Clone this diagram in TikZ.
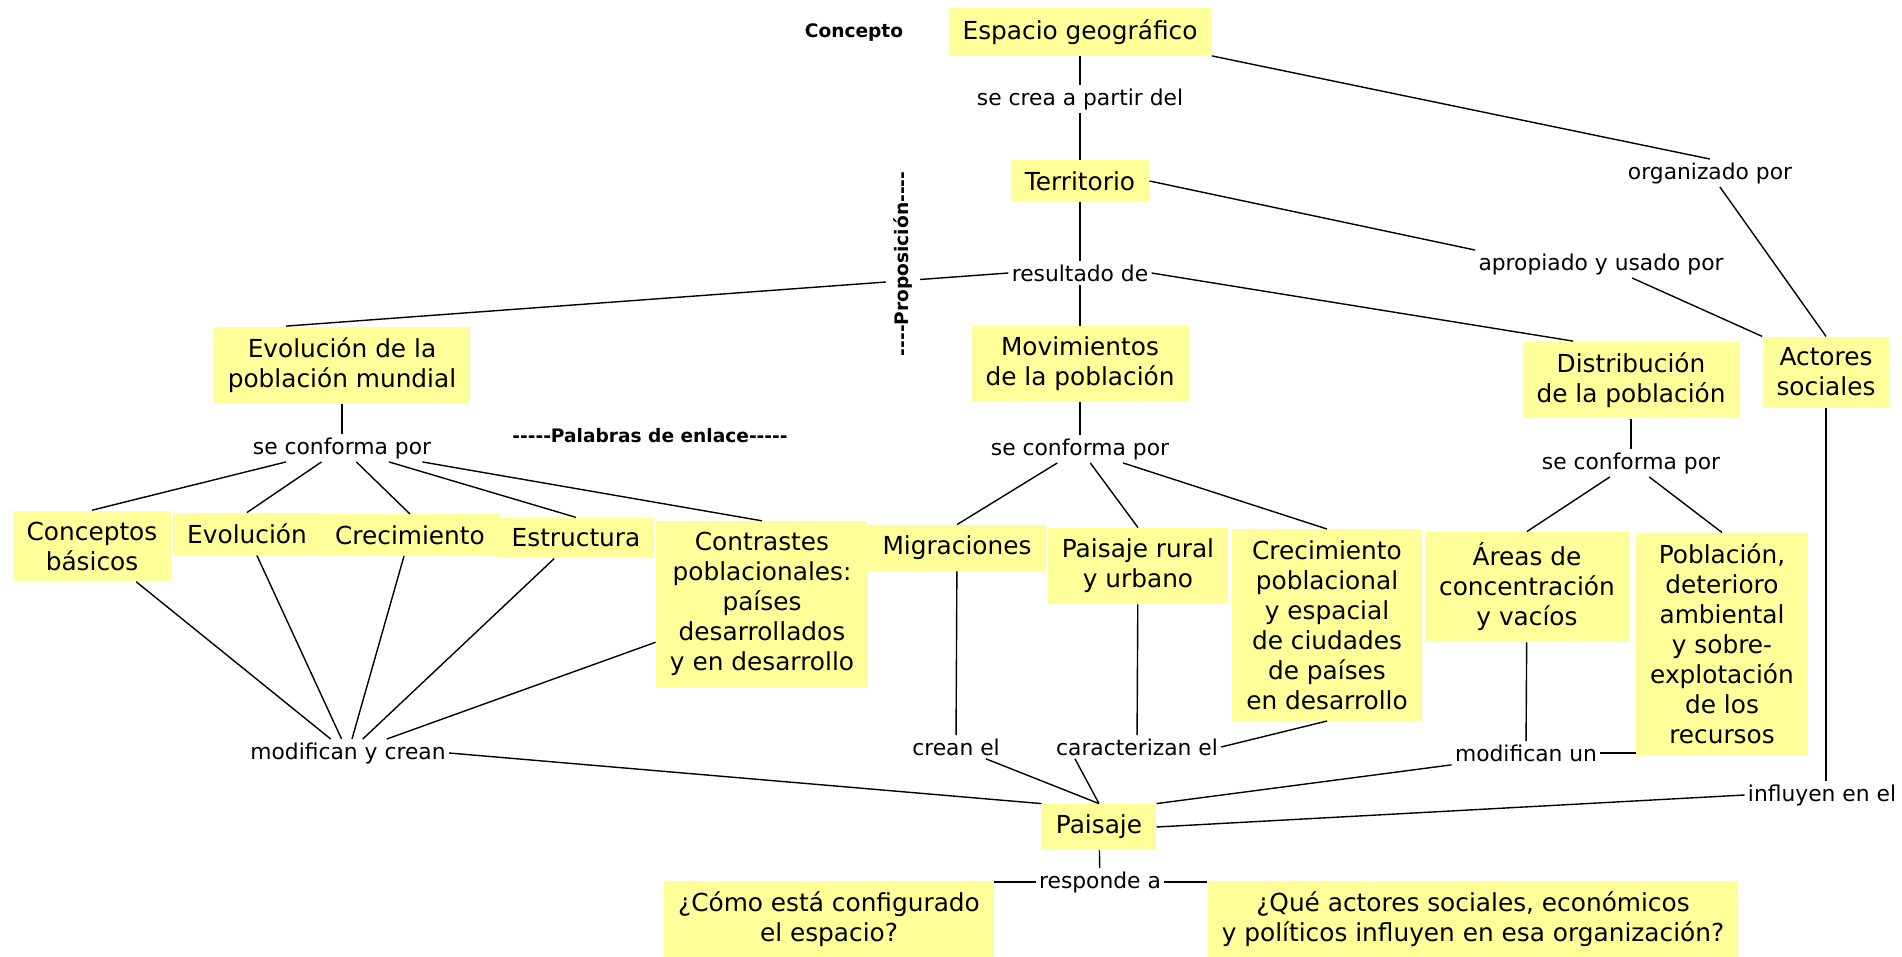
\documentclass[tikz,border=0pt]{standalone}
\usepackage{fontspec}
\setmainfont{DejaVu Sans}
\usetikzlibrary{calc}
\definecolor{cmapyellow}{RGB}{255,255,153}

\begin{document}
\begin{tikzpicture}[x=0.5pt,y=0.5pt,yscale=-1,
    concepto/.style={fill=cmapyellow, inner xsep=7pt, inner ysep=5.5pt, align=center, font=\fontsize{12.4}{15}\selectfont},
    enlace/.style={inner sep=1.5pt, align=center, font=\fontsize{10.9}{13}\selectfont},
    leyenda/.style={inner sep=2pt, font=\fontsize{9.3}{11}\selectfont\bfseries},
    linea/.style={line width=0.7pt}]
    \useasboundingbox (0,0) rectangle (1902,957);

    % Concepts
    \node[concepto] (espacio) at (1080,32) {Espacio geográfico};
    \node[concepto] (territorio) at (1080,181) {Territorio};
    \node[concepto] (evolpob) at (342,365) {Evolución de la\\población mundial};
    \node[concepto] (movimientos) at (1080,364) {Movimientos\\de la población};
    \node[concepto] (distrib) at (1631,380) {Distribución\\de la población};
    \node[concepto] (actores) at (1826,372) {Actores\\sociales};
    \node[concepto] (conceptos) at (92,546) {Conceptos\\básicos};
    \node[concepto] (evolucion) at (247,534) {Evolución};
    \node[concepto] (crecimiento) at (410,535) {Crecimiento};
    \node[concepto] (estructura) at (576,538) {Estructura};
    \node[concepto] (contrastes) at (762,604) {Contrastes\\poblacionales:\\países\\desarrollados\\y en desarrollo};
    \node[concepto] (migraciones) at (957,548) {Migraciones};
    \node[concepto] (paisajerural) at (1138,566) {Paisaje rural\\y urbano};
    \node[concepto] (crecpobl) at (1327,625) {Crecimiento\\poblacional\\y espacial\\de ciudades\\de países\\en desarrollo};
    \node[concepto] (areas) at (1527,587) {Áreas de\\concentración\\y vacíos};
    \node[concepto] (poblacion) at (1722,644) {Población,\\deterioro\\ambiental\\y sobre-\\explotación\\de los\\recursos};
    \node[concepto] (paisaje) at (1099,827) {Paisaje};
    \node[concepto] (como) at (829,919) {¿Cómo está configurado\\el espacio?};
    \node[concepto] (que) at (1473,919) {¿Qué actores sociales, económicos\\y políticos influyen en esa organización?};

    % Linking words
    \node[enlace] (secrea) at (1080,99) {se crea a partir del};
    \node[enlace] (organizado) at (1710,173) {organizado por};
    \node[enlace] (apropiado) at (1601,264) {apropiado y usado por};
    \node[enlace] (resultado) at (1080,273) {resultado de};
    \node[enlace] (conf1) at (342,448) {se conforma por};
    \node[enlace] (conf2) at (1080,449) {se conforma por};
    \node[enlace] (conf3) at (1631,463) {se conforma por};
    \node[enlace] (mod1) at (348,753) {modifican y crean};
    \node[enlace] (creanel) at (956,747) {crean el};
    \node[enlace] (caract) at (1137,747) {caracterizan el};
    \node[enlace] (modun) at (1526,753) {modifican un};
    \node[enlace] (influyen) at (1822,795) {influyen en el};
    \node[enlace] (responde) at (1100,882) {responde a};

    % Legend
    \node[leyenda] (lconcepto) at (854,33) {Concepto};
    \node[leyenda] (lenlace) at (650,436) {-{}-{}-{}-{}-Palabras de enlace-{}-{}-{}-{}-};

    % Connectors
    \draw[linea] (espacio) -- (secrea);
    \draw[linea] (secrea) -- (territorio);
    \draw[linea] (espacio.south east) -- (organizado.north);
    \draw[linea] (organizado) -- (actores.north);
    \draw[linea] (territorio.east) -- (apropiado.north west);
    \draw[linea] (apropiado) -- (actores.north west);
    \draw[linea] (territorio) -- (resultado);
    \draw[linea] (resultado) -- (movimientos);
    \draw[linea] (resultado.west) -- ([xshift=-28pt]evolpob.north);
    \draw[linea] (resultado.east) -- ([xshift=-29pt]distrib.north);
    \draw[linea] (evolpob) -- (conf1);
    \foreach \n in {conceptos,evolucion,crecimiento,estructura,contrastes} {
        \draw[linea] (conf1) -- (\n.north);
        \draw[linea] (\n) -- (mod1);
    }
    \draw[linea] (mod1.east) -- (paisaje.north west);
    \draw[linea] (movimientos) -- (conf2);
    \foreach \n in {migraciones,paisajerural,crecpobl}
        \draw[linea] (conf2) -- (\n.north);
    \draw[linea] (migraciones) -- (creanel);
    \draw[linea] (paisajerural) -- (caract);
    \draw[linea] (crecpobl.south) -- (caract.east);
    \draw[linea] (creanel) -- (paisaje.north);
    \draw[linea] ([xshift=-31pt]caract.south) -- (paisaje.north);
    \draw[linea] (distrib) -- (conf3);
    \draw[linea] (conf3) -- (areas.north);
    \draw[linea] (conf3) -- (poblacion.north);
    \draw[linea] (areas) -- (modun);
    \draw[linea] (modun.east) -- (modun.east -| poblacion.west);
    \draw[linea] (modun.south west) -- (paisaje.north east);
    \draw[linea] (actores.south) -- (actores.south |- influyen.north);
    \draw[linea] (influyen.west) -- (paisaje.east);
    \draw[linea] (paisaje) -- (responde);
    \draw[linea] (responde.west) -- (responde.west -| como.east);
    \draw[linea] (responde.east) -- (responde.east -| que.west);

    % Legend over the line
    \node[leyenda, fill=white, inner sep=4pt, rotate=90] (lproposicion) at (903,264) {-{}-{}-{}-Proposición-{}-{}-{}-};
\end{tikzpicture}
\end{document}
